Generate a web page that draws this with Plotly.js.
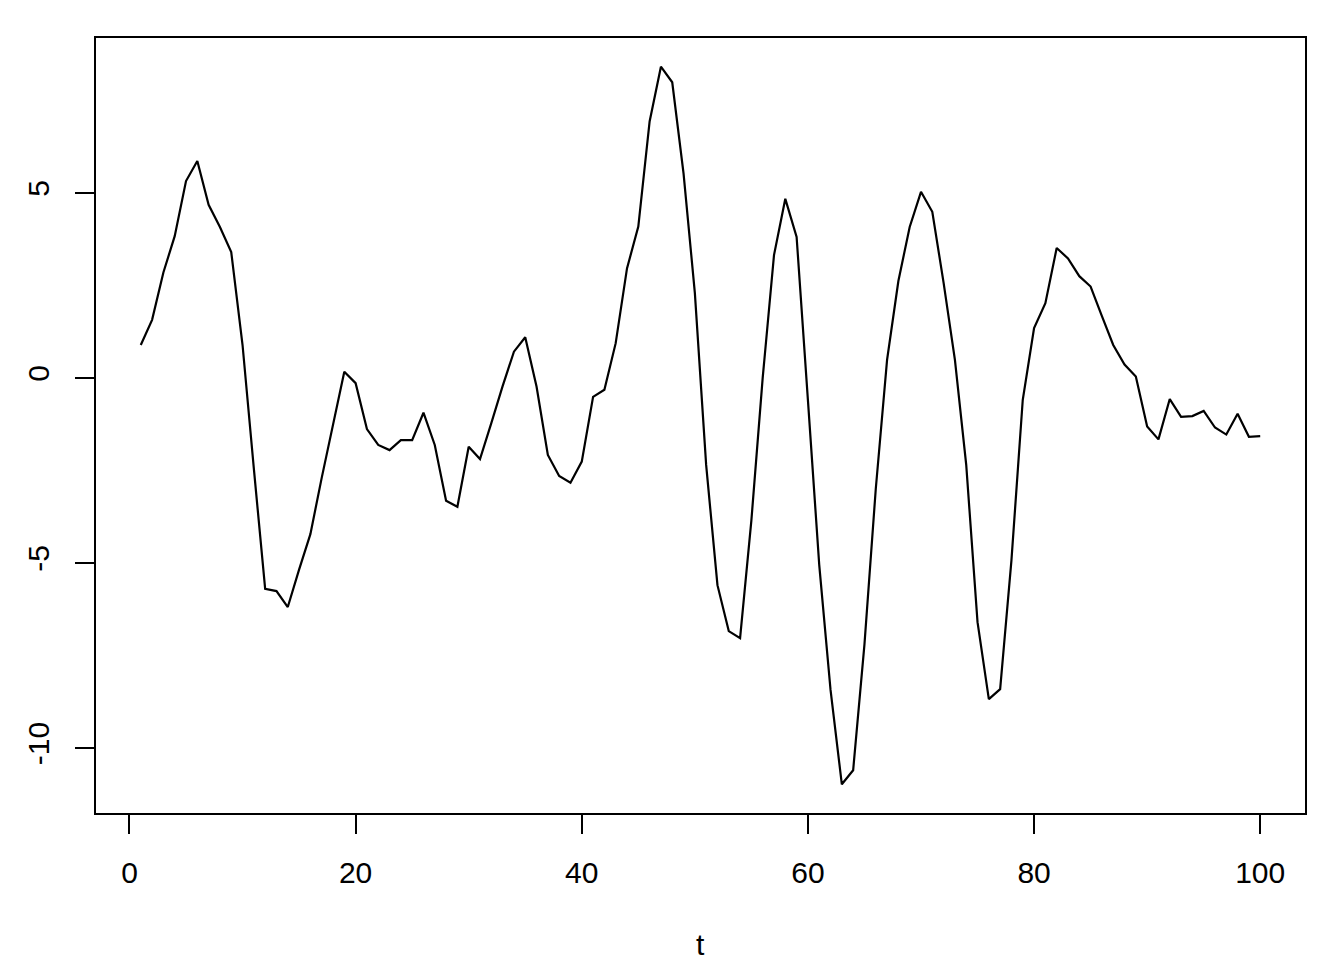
<!DOCTYPE html>
<html>
<head>
<meta charset="utf-8">
<script src="https://cdn.plot.ly/plotly-3.0.1.min.js"></script>
<style>
  html, body { margin: 0; padding: 0; background: #ffffff; }
  #chart { width: 1344px; height: 960px; }
</style>
</head>
<body>
<div id="chart"></div>
<script>
// ---- data ----
const t = [1,2,3,4,5,6,7,8,9,10,11,12,13,14,15,16,17,18,19,20,
           21,22,23,24,25,26,27,28,29,30,31,32,33,34,35,36,37,38,39,40,
           41,42,43,44,45,46,47,48,49,50,51,52,53,54,55,56,57,58,59,60,
           61,62,63,64,65,66,67,68,69,70,71,72,73,74,75,76,77,78,79,80,
           81,82,83,84,85,86,87,88,89,90,91,92,93,94,95,96,97,98,99,100];
const values = [0.89, 1.57, 2.85, 3.83, 5.32, 5.86, 4.68, 4.08, 3.40, 0.89,
                -2.45, -5.70, -5.76, -6.19, -5.18, -4.22, -2.70, -1.22, 0.17, -0.14,
                -1.38, -1.81, -1.95, -1.68, -1.68, -0.94, -1.81, -3.32, -3.48, -1.86,
                -2.19, -1.22, -0.22, 0.71, 1.10, -0.23, -2.08, -2.65, -2.83, -2.26,
                -0.51, -0.32, 0.94, 2.96, 4.09, 6.93, 8.41, 7.99, 5.53, 2.30,
                -2.35, -5.60, -6.84, -7.03, -3.85, 0.00, 3.32, 4.84, 3.81, -0.60,
                -5.05, -8.43, -10.98, -10.60, -7.20, -3.00, 0.49, 2.62, 4.08, 5.03,
                4.49, 2.57, 0.49, -2.35, -6.60, -8.68, -8.41, -4.92, -0.59, 1.35,
                2.02, 3.51, 3.23, 2.75, 2.47, 1.67, 0.89, 0.36, 0.04, -1.31,
                -1.66, -0.57, -1.05, -1.03, -0.89, -1.34, -1.53, -0.97, -1.59, -1.57];
const xTickVals = [0, 20, 40, 60, 80, 100];
const xTickText = ["0", "20", "40", "60", "80", "100"];
const yTickVals = [-10, -5, 0, 5];
const yTickText = ["-10", "-5", "0", "5"];
const xTitle = "t";

// R-style 4% range extension
function extRange(arr) {
  const lo = Math.min(...arr), hi = Math.max(...arr);
  const d = (hi - lo) * 0.04;
  return [lo - d, hi + d];
}

const FONT = "Liberation Sans, Arial, Helvetica, sans-serif";
const FS = 30;

const trace = {
  x: t, y: values,
  type: "scatter", mode: "lines",
  line: { color: "#000000", width: 2.2 },
  hoverinfo: "x+y", showlegend: false
};

const layout = {
  width: 1344, height: 960,
  margin: { l: 96, r: 39, t: 38, b: 147, pad: 0 },
  paper_bgcolor: "#ffffff", plot_bgcolor: "#ffffff",
  font: { family: FONT, size: FS, color: "#000000" },
  showlegend: false,
  xaxis: {
    range: extRange(t), autorange: false,
    tickmode: "array", tickvals: xTickVals, ticktext: xTickText,
    ticks: "outside", ticklen: 19, tickwidth: 2, tickcolor: "#000000",
    showline: true, mirror: true, linewidth: 2, linecolor: "#000000",
    showgrid: false, zeroline: false,
    tickfont: { family: FONT, size: FS, color: "#000000" },
    ticklabelstandoff: 13,
    automargin: false
  },
  yaxis: {
    range: extRange(values), autorange: false,
    tickmode: "array", tickvals: yTickVals, ticktext: yTickText,
    ticks: "outside", ticklen: 19, tickwidth: 2, tickcolor: "#000000",
    showline: true, mirror: true, linewidth: 2, linecolor: "#000000",
    showgrid: false, zeroline: false,
    tickangle: -90,
    tickfont: { family: FONT, size: FS, color: "#000000" },
    ticklabelstandoff: 14,
    automargin: false
  },
  annotations: [{
    text: xTitle, xref: "paper", yref: "paper", x: 0.5, y: 0,
    xanchor: "center", yanchor: "middle", yshift: -131,
    showarrow: false, font: { family: FONT, size: FS, color: "#000000" }
  }]
};

Plotly.newPlot("chart", [trace], layout, { displayModeBar: false, staticPlot: true });
</script>
</body>
</html>
